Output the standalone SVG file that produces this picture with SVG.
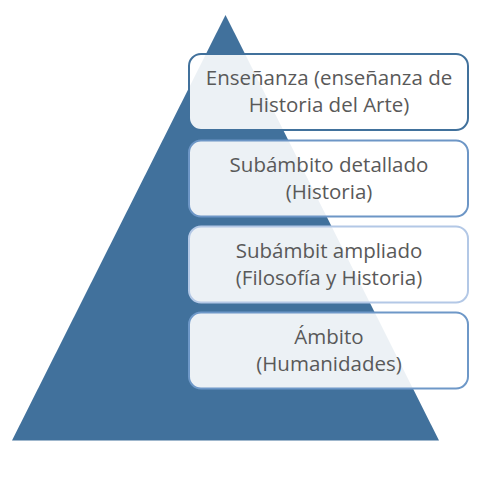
<svg xmlns="http://www.w3.org/2000/svg" width="492" height="482" viewBox="0 0 492 482">
<style>
.box{fill:#ffffff;fill-opacity:0.9;stroke-width:2}
.t{font-family:"Open Sans","Liberation Sans",sans-serif;font-size:20.5px;fill:#595959;text-anchor:middle}
</style>
<rect width="492" height="482" fill="#ffffff"/>
<g id="pyramid"><polygon points="225.5,15 12,440.5 439,440.5" fill="#41719C"/></g>
<g id="node1"><rect class="box" x="189" y="54" width="279" height="76" rx="12" stroke="#41719C"/>
<text class="t" x="329" y="84.5">Enseñanza (enseñanza de</text><text class="t" x="329" y="112">Historia del Arte)</text></g>
<g id="node2"><rect class="box" x="189" y="140.5" width="279" height="76" rx="12" stroke="#6D96C6"/>
<text class="t" x="329" y="171.5">Subámbito detallado</text><text class="t" x="329" y="199">(Historia)</text></g>
<g id="node3"><rect class="box" x="189" y="226.5" width="279" height="76" rx="12" stroke="#B3C8E6"/>
<text class="t" x="329" y="257.5">Subámbit ampliado</text><text class="t" x="329" y="285">(Filosofía y Historia)</text></g>
<g id="node4"><rect class="box" x="189" y="312.5" width="279" height="76" rx="12" stroke="#6E98C8"/>
<text class="t" x="329" y="343.5">Ámbito</text><text class="t" x="329" y="371">(Humanidades)</text></g>
<g id="connectors"></g>
</svg>
